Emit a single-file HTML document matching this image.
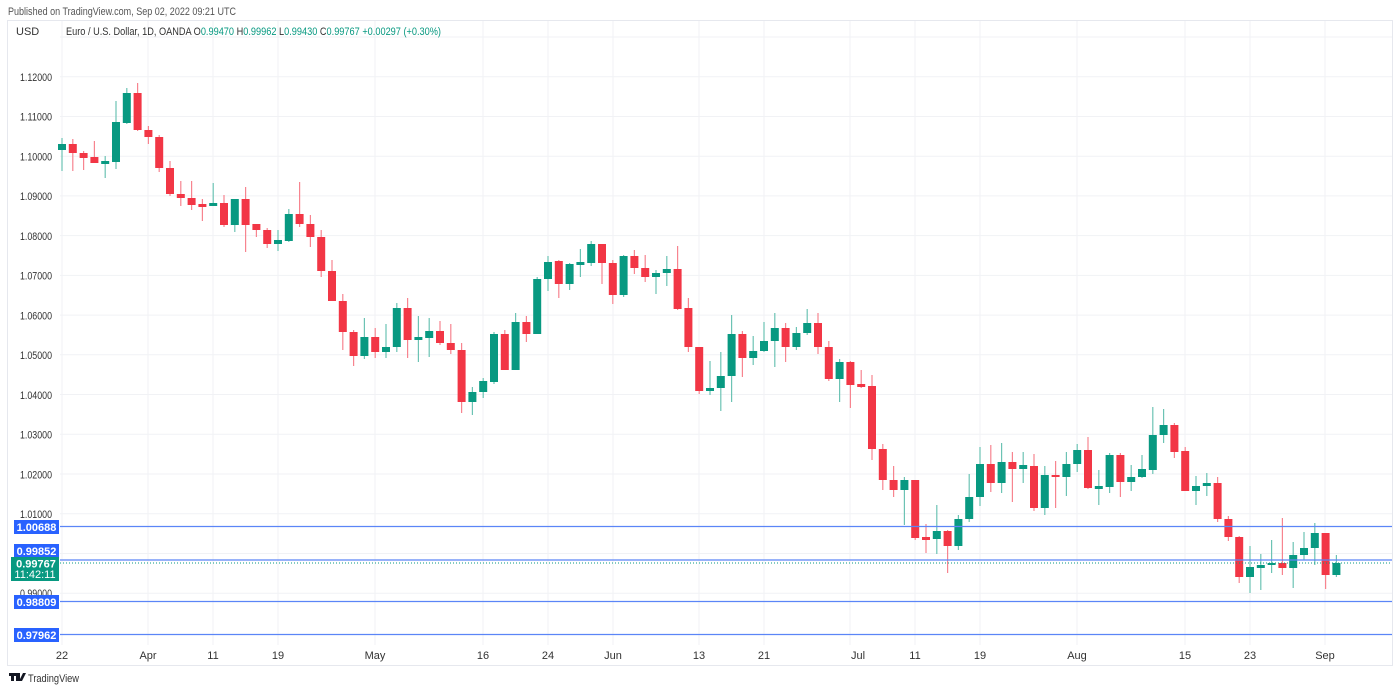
<!DOCTYPE html>
<html><head><meta charset="utf-8"><style>
html,body{margin:0;padding:0;background:#fff;width:1400px;height:692px;overflow:hidden;font-family:"Liberation Sans",sans-serif;}
svg text{font-family:"Liberation Sans",sans-serif;}
</style></head><body>
<svg id="s" width="1400" height="692" xmlns="http://www.w3.org/2000/svg">
<rect x="0" y="0" width="1400" height="692" fill="#fff"/>
<text x="8" y="15" font-size="11" fill="#555" textLength="228" lengthAdjust="spacingAndGlyphs">Published on TradingView.com, Sep 02, 2022 09:21 UTC</text>
<rect x="7.5" y="20.5" width="1385" height="645" fill="none" stroke="#e6e8ee"/>
<g id="grid" stroke="#f1f2f5" stroke-width="1"></g>
<g id="ylab" font-size="11" fill="#333" text-anchor="end"></g>
<g id="c"></g>
<g stroke="#5b85f7" stroke-width="1.3">
<line x1="60" y1="526.5" x2="1392" y2="526.5"/>
<line x1="60" y1="560" x2="1392" y2="560"/>
<line x1="60" y1="601.5" x2="1392" y2="601.5"/>
<line x1="60" y1="634.5" x2="1392" y2="634.5"/>
</g>
<line x1="60" y1="563" x2="1392" y2="563" stroke="#089981" stroke-width="1" stroke-dasharray="1,2"/>
<g font-size="11" font-weight="bold" fill="#fff" text-anchor="middle">
<rect x="14" y="520" width="45" height="14" fill="#2962ff"/><text x="36.5" y="531">1.00688</text>
<rect x="14" y="544" width="45" height="14" fill="#2962ff"/><text x="36.5" y="555">0.99852</text>
<rect x="11" y="557" width="48" height="24" fill="#089981"/><text x="36" y="567.5">0.99767</text>
<text x="35" y="578" font-weight="normal">11:42:11</text>
<rect x="14" y="595" width="45" height="14" fill="#2962ff"/><text x="36.5" y="606">0.98809</text>
<rect x="14" y="628" width="45" height="14" fill="#2962ff"/><text x="36.5" y="639">0.97962</text>
</g>
<text x="16" y="35" font-size="11" fill="#333">USD</text>
<text x="66" y="35" font-size="11" fill="#333" textLength="375" lengthAdjust="spacingAndGlyphs">Euro / U.S. Dollar, 1D, OANDA  O<tspan fill="#089981">0.99470</tspan>  H<tspan fill="#089981">0.99962</tspan>  L<tspan fill="#089981">0.99430</tspan>  C<tspan fill="#089981">0.99767</tspan>  <tspan fill="#089981">+0.00297 (+0.30%)</tspan></text>
<g font-size="11" fill="#333" text-anchor="middle">
<text x="62" y="659">22</text><text x="148" y="659">Apr</text><text x="213" y="659">11</text><text x="278" y="659">19</text>
<text x="375" y="659">May</text><text x="483" y="659">16</text><text x="548" y="659">24</text><text x="613" y="659">Jun</text>
<text x="699" y="659">13</text><text x="764" y="659">21</text><text x="858" y="659">Jul</text><text x="915" y="659">11</text>
<text x="980" y="659">19</text><text x="1077" y="659">Aug</text><text x="1185" y="659">15</text><text x="1250" y="659">23</text>
<text x="1325" y="659">Sep</text>
</g>
<g fill="#131722"><rect x="9" y="673" width="7" height="3"/><rect x="11" y="673" width="3" height="8"/><rect x="16" y="673" width="4" height="8"/><polygon points="19,681 23,673 26,673 22,681"/></g>
<text x="28" y="682" font-size="11" fill="#333" textLength="51" lengthAdjust="spacingAndGlyphs">TradingView</text>
</svg>
<script>
var NS="http://www.w3.org/2000/svg";
function el(p,t,a){var e=document.createElementNS(NS,t);for(var k in a)e.setAttribute(k,a[k]);p.appendChild(e);return e;}
var g=document.getElementById('grid');
for(var p=0;p<=14;p++){var y=37+p*39.727;el(g,'line',{x1:60,x2:1392,y1:y.toFixed(1),y2:y.toFixed(1)});}
[62,148,213,278,375,483,548,613,699,764,850,915,980,1077,1185,1250,1325].forEach(function(x){el(g,'line',{x1:x,x2:x,y1:21,y2:645});});
var yl=document.getElementById('ylab');
var labs=["1.12000","1.11000","1.10000","1.09000","1.08000","1.07000","1.06000","1.05000","1.04000","1.03000","1.02000","1.01000"];
labs.forEach(function(t,i){var y=77+i*39.727;var e=el(yl,'text',{x:52,y:(y+4).toFixed(1),textLength:32,lengthAdjust:'spacingAndGlyphs'});e.textContent=t;});
var e9=el(yl,'text',{x:52,y:597,textLength:32,lengthAdjust:'spacingAndGlyphs'});e9.textContent="0.99000";
var d=[[150,144,138,171],[144,153,139,171],[153,158,151,170],[157,163,141,163],[163,162,156,178],[162,122,101,169],[123,93,88,124],[93,130,83,131],
[130,137,126,144],[137,168,135,172],[168,194,161,196],[194,198,181,206],[198,205,181,210],[205,206,199,221],[206,203,183,206],[203,225,195,227],[225,199,199,232],[199,225,187,252],[224,230,224,237],[230,244,228,248],[244,240,230,251],
[241,214,209,242],[214,224,182,227],[224,237,215,247],[237,271,230,277],[271,301,260,301],[301,332,294,350],[332,356,330,366],[356,337,318,359],
[337,352,328,358],[352,347,324,358],[347,308,303,352],[308,340,298,358],[340,337,316,362],[338,331,318,357],[331,343,321,345],[343,350,324,354],[350,402,343,413],[402,392,387,415],[392,381,378,398],[382,334,332,384],[334,370,330,370],
[370,322,313,370],[322,334,316,342],[334,279,277,334],[279,262,256,291],[261,284,260,298],[284,264,263,290],[264,263,249,277],[263,244,241,266],[244,263,244,284],
[263,295,260,304],[295,256,255,297],[256,268,250,274],[268,277,255,282],[277,273,270,294],[273,269,256,286],[269,309,246,310],[308,347,298,352],[347,391,347,394],[391,388,361,395],[388,376,352,411],
[376,334,315,402],[334,358,331,377],[358,351,336,365],[351,341,322,352],[341,328,313,367],[328,347,323,362],[347,333,327,350],[333,323,309,335],[323,347,313,354],[347,379,341,381],[379,362,359,402],
[362,385,361,408],[385,386,370,388],[386,449,375,460],[449,480,444,490],[480,490,466,497],[490,480,477,525],[480,538,480,540],[538,539,524,553],[539,531,505,554],[531,546,530,573],[546,519,515,550],
[519,497,474,522],[497,464,447,506],[464,483,445,492],[483,462,443,493],[462,469,452,502],[469,465,452,483],[466,508,454,511],[508,475,466,515],[475,477,461,508],[477,464,452,496],
[464,450,444,472],[450,488,437,489],[488,487,470,505],[487,455,453,493],[455,482,453,497],[482,477,465,491],[477,469,455,478],[470,435,407,474],[435,425,409,443],[425,452,423,458],
[451,491,447,491],[491,486,476,505],[486,483,473,496],[483,519,477,522],[519,537,516,541],[537,577,536,583],[577,567,546,593],[567,566,554,590],[565,563,540,573],[563,568,518,575],
[568,555,542,588],[555,548,532,560],[548,533,523,565],[533,575,533,589],[575,563,555,577]];
var c=document.getElementById('c');
d.forEach(function(k,i){var x=62+i*10.8;var up=k[1]<=k[0];var col=up?"#089981":"#f23645";var wc=up?"#6cc3b4":"#f7848f";
el(c,'line',{x1:x.toFixed(1),x2:x.toFixed(1),y1:k[2],y2:k[3],stroke:wc,'stroke-width':1.2});
var t=Math.min(k[0],k[1]),b=Math.max(k[0],k[1]);if(b-t<1.5){t-=1;b+=1;}
el(c,'rect',{x:(x-4).toFixed(1),y:t,width:8,height:b-t,fill:col});});
</script>
</body></html>
